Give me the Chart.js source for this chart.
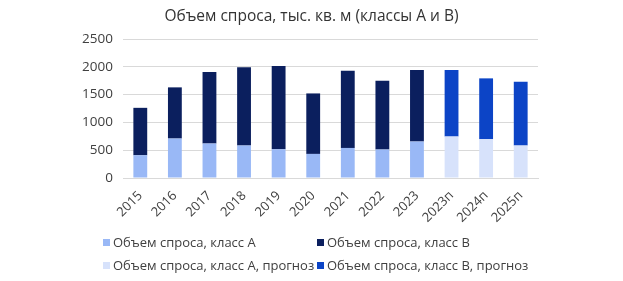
<!DOCTYPE html>
<html>
<head>
<meta charset="utf-8">
<script src="https://cdn.jsdelivr.net/npm/chart.js@4/dist/chart.umd.min.js"></script>
<style>
  html, body { margin: 0; padding: 0; background: #fff; }
  #wrap { position: relative; width: 623px; height: 281px; }
  #title {
    position: absolute; left: 0; top: 4px; width: 623px; text-align: center;
    font-family: "Open Sans", sans-serif; font-size: 15.5px; color: #333;
  }
  #legend {
    position: absolute; left: 103px; top: 233px;
    display: grid; grid-template-columns: 214px 220px; row-gap: 5px;
    font-family: "Open Sans", sans-serif; font-size: 13px; color: #404040;
  }
  .item { display: flex; align-items: center; white-space: nowrap; line-height: 18px; }
  .box { width: 7px; height: 7px; margin-right: 3px; }
</style>
</head>
<body>
<div id="wrap">
  <canvas id="myChart" width="623" height="281"></canvas>
  <div id="title">Объем спроса, тыс. кв. м (классы А и В)</div>
  <div id="legend"></div>
</div>
<script>
const years = ['2015', '2016', '2017', '2018', '2019', '2020', '2021', '2022', '2023', '2023п', '2024п', '2025п'];
const classA = [409, 710, 620, 584, 517, 433, 541, 512, 656, null, null, null];
const classB = [853, 920, 1285, 1406, 1496, 1088, 1388, 1236, 1285, null, null, null];
const classAForecast = [null, null, null, null, null, null, null, null, null, 746, 698, 584];
const classBForecast = [null, null, null, null, null, null, null, null, null, 1195, 1094, 1146];
const yTicks = [0, 500, 1000, 1500, 2000, 2500];

const font = 'Open Sans';

const ctx = document.getElementById('myChart').getContext('2d');
const chart = new Chart(ctx, {
  type: 'bar',
  data: {
    labels: years,
    datasets: [
      { label: 'Объем спроса, класс A', data: classA, backgroundColor: '#99b8f6' },
      { label: 'Объем спроса, класс B', data: classB, backgroundColor: '#0b1f5e' },
      { label: 'Объем спроса, класс A, прогноз', data: classAForecast, backgroundColor: '#d7e2fb' },
      { label: 'Объем спроса, класс B, прогноз', data: classBForecast, backgroundColor: '#0c44c6' }
    ]
  },
  options: {
    responsive: false,
    animation: false,
    layout: { padding: { left: 0, right: 85, top: 39, bottom: 53 } },
    datasets: { bar: { barPercentage: 0.4, categoryPercentage: 1, skipNull: false } },
    plugins: {
      legend: { display: false },
      tooltip: { enabled: false }
    },
    scales: {
      x: {
        stacked: true,
        grid: { display: false },
        border: { color: '#d9d9d9' },
        ticks: {
          minRotation: 45, maxRotation: 45, padding: 2,
          color: '#404040', font: { family: font, size: 13 }
        },
        afterFit: s => { s.height = 50; }
      },
      y: {
        stacked: true,
        min: 0, max: 2500,
        afterBuildTicks: s => { s.ticks = yTicks.map(v => ({ value: v })); },
        grid: { color: '#d9d9d9', drawTicks: false },
        border: { display: false },
        ticks: {
          padding: 10, color: '#404040', font: { family: font, size: 13.5 },
          callback: v => String(v)
        },
        afterFit: s => { s.width = 123; }
      }
    }
  }
});

const legend = document.getElementById('legend');
chart.data.datasets.forEach(ds => {
  const item = document.createElement('div');
  item.className = 'item';
  const box = document.createElement('span');
  box.className = 'box';
  box.style.background = ds.backgroundColor;
  item.appendChild(box);
  item.appendChild(document.createTextNode(ds.label));
  legend.appendChild(item);
});
</script>
</body>
</html>
